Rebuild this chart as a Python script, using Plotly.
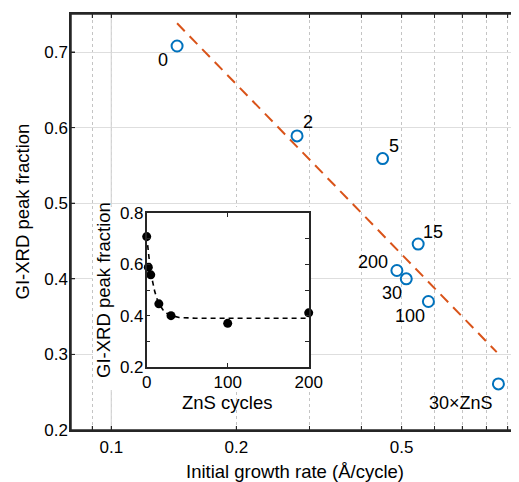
import numpy as np
import plotly.graph_objects as go

# ---------------- data ----------------
cycles = [0, 2, 5, 15, 30, 100, 200]
point_labels = ["0", "2", "5", "15", "30", "100", "200"]
growth_rate = [0.144, 0.280, 0.450, 0.548, 0.513, 0.580, 0.487]
peak_fraction = [0.708, 0.589, 0.559, 0.446, 0.400, 0.370, 0.411]

zns_label = "30×ZnS"
zns_rate = [0.855]
zns_fraction = [0.261]

fit_rate = [0.144, 0.847]
fit_fraction = [0.738, 0.303]

decay_cycles = [0, 2, 4, 6, 8, 10, 13, 16, 20, 25, 30, 40, 60, 100, 150, 200]
decay_fraction = [0.710, 0.645, 0.593, 0.552, 0.519, 0.493, 0.463, 0.442, 0.423,
                  0.409, 0.401, 0.393, 0.390, 0.390, 0.390, 0.390]

x_tick_vals = [0.09, 0.1, 0.2, 0.3, 0.4, 0.5, 0.6, 0.7, 0.8, 0.9]
x_tick_text = ["", "0.1", "0.2", "", "", "0.5", "", "", "", ""]
y_tick_vals = [0.2, 0.3, 0.4, 0.5, 0.6, 0.7]
y_tick_text = ["0.2", "0.3", "0.4", "0.5", "0.6", "0.7"]
inset_y_vals = [0.2, 0.3, 0.4, 0.5, 0.6, 0.7, 0.8]
inset_y_text = ["0.2", "", "0.4", "", "0.6", "", "0.8"]
inset_x_vals = [0, 100, 200]
inset_x_text = ["0", "100", "200"]

# ---------------- style ----------------
FONT = "Liberation Sans, Arial, Helvetica, sans-serif"
BLUE = "#0072BD"
ORANGE = "#D95319"
AX = "#262626"
OFF = 8                      # page body margin of the browser
W, H = 519 - OFF, 482 - OFF
PL, PR, PT, PB = 71, 519, 14, 430   # plot area in page pixels
ML, MT = PL - OFF, PT - OFF
MR, MB = 0, H - (PB - OFF)
X_RANGE = [-1.097, -0.0185]
Y_RANGE = [0.2, 0.7503]
label_shift = {"0": (-14, -14), "2": (11, 14), "5": (11, 13), "15": (15, 12),
               "200": (-24, 8), "30": (-14, -14), "100": (-18, -15)}
zns_shift = (-37, -19)
TICKLEN = 4

pw, ph = PR - PL, PB - PT
def px2fx(px):
    return (px - PL) / pw
def py2fy(py):
    return (PB - py) / ph
def px2data(px):
    return 10 ** (X_RANGE[0] + px2fx(px) * (X_RANGE[1] - X_RANGE[0]))
def py2data(py):
    return Y_RANGE[0] + py2fy(py) * (Y_RANGE[1] - Y_RANGE[0])
def xfrac(v):
    return (np.log10(v) - X_RANGE[0]) / (X_RANGE[1] - X_RANGE[0])
def yfrac(v):
    return (v - Y_RANGE[0]) / (Y_RANGE[1] - Y_RANGE[0])

fig = go.Figure()

# solid major gridline at 0.1 and white backdrop behind the inset (decoration)
fig.add_trace(go.Scatter(x=[0.1, 0.1], y=Y_RANGE, mode="lines",
                         line=dict(color="#d6d6d6", width=1.2),
                         showlegend=False, hoverinfo="skip"))
bx0, bx1, by0, by1 = px2data(93), px2data(310), py2data(390), py2data(207)
fig.add_trace(go.Scatter(x=[bx0, bx1, bx1, bx0, bx0], y=[by0, by0, by1, by1, by0],
                         mode="lines", fill="toself", fillcolor="white",
                         line=dict(width=0, color="white"),
                         showlegend=False, hoverinfo="skip"))

# main plot
fig.add_trace(go.Scatter(x=fit_rate, y=fit_fraction, mode="lines",
                         line=dict(color=ORANGE, width=2, dash="11px,7px"),
                         showlegend=False, hoverinfo="skip"))
fig.add_trace(go.Scatter(x=growth_rate + zns_rate, y=peak_fraction + zns_fraction,
                         mode="markers",
                         marker=dict(symbol="circle-open", size=11, color=BLUE,
                                     line=dict(width=2, color=BLUE)),
                         showlegend=False, cliponaxis=False))

# inset
fig.add_trace(go.Scatter(x=decay_cycles, y=decay_fraction, mode="lines",
                         xaxis="x2", yaxis="y2",
                         line=dict(color="black", width=1.6, dash="5px,4px"),
                         showlegend=False, hoverinfo="skip"))
fig.add_trace(go.Scatter(x=cycles, y=peak_fraction, mode="markers",
                         xaxis="x2", yaxis="y2",
                         marker=dict(symbol="circle", size=9, color="black"),
                         showlegend=False, cliponaxis=False))

annotations = []
for lab, r, f in zip(point_labels, growth_rate, peak_fraction):
    dx, dy = label_shift[lab]
    annotations.append(dict(x=np.log10(r), y=f, xref="x", yref="y", text=lab,
                            showarrow=False, xshift=dx, yshift=dy,
                            font=dict(size=18, color="black", family=FONT)))
annotations.append(dict(x=np.log10(zns_rate[0]), y=zns_fraction[0], xref="x", yref="y",
                        text=zns_label, showarrow=False, xshift=zns_shift[0],
                        yshift=zns_shift[1], font=dict(size=18, color="black", family=FONT)))
# axis titles
annotations.append(dict(x=px2fx(294.5), y=py2fy(471), xref="paper", yref="paper",
                        text="Initial growth rate (Å/cycle)", showarrow=False,
                        xanchor="center", yanchor="middle",
                        font=dict(size=18.5, color="black", family=FONT)))
annotations.append(dict(x=px2fx(21.5), y=py2fy(212), xref="paper", yref="paper",
                        text="GI-XRD peak fraction", showarrow=False, textangle=-90,
                        xanchor="center", yanchor="middle",
                        font=dict(size=18.5, color="black", family=FONT)))
annotations.append(dict(x=px2fx(103), y=py2fy(290), xref="paper", yref="paper",
                        text="GI-XRD peak fraction", showarrow=False, textangle=-90,
                        xanchor="center", yanchor="middle",
                        font=dict(size=18.5, color="black", family=FONT)))
annotations.append(dict(x=px2fx(227), y=py2fy(402), xref="paper", yref="paper",
                        text="ZnS cycles", showarrow=False,
                        xanchor="center", yanchor="middle",
                        font=dict(size=18.5, color="black", family=FONT)))

# main axis frame and ticks (left, bottom, top)
line_style = dict(color=AX, width=1.5)
tick_style = dict(color=AX, width=1)
shapes = [
    dict(type="line", xref="paper", yref="paper", x0=0, x1=0, y0=0, y1=1, line=line_style, layer="above"),
    dict(type="line", xref="paper", yref="paper", x0=0, x1=1, y0=0, y1=0, line=line_style, layer="above"),
    dict(type="line", xref="paper", yref="paper", x0=0, x1=1, y0=1, y1=1, line=line_style, layer="above"),
]
dyt, dxt = TICKLEN / ph, TICKLEN / pw
for v in x_tick_vals:
    f = xfrac(v)
    shapes.append(dict(type="line", xref="paper", yref="paper", x0=f, x1=f, y0=0, y1=dyt,
                       line=tick_style, layer="above"))
    shapes.append(dict(type="line", xref="paper", yref="paper", x0=f, x1=f, y0=1, y1=1 - dyt,
                       line=tick_style, layer="above"))
for v in y_tick_vals[1:]:
    f = yfrac(v)
    shapes.append(dict(type="line", xref="paper", yref="paper", x0=0, x1=dxt, y0=f, y1=f,
                       line=tick_style, layer="above"))

common_ax = dict(showline=True, linecolor=AX, linewidth=1.5, ticks="inside",
                 ticklen=TICKLEN, tickwidth=1, tickcolor=AX, zeroline=False,
                 tickfont=dict(size=17, color="black", family=FONT))

fig.update_layout(
    width=W, height=H,
    margin=dict(l=ML, r=MR, t=MT, b=MB, pad=0),
    paper_bgcolor="white", plot_bgcolor="white",
    font=dict(family=FONT, size=17, color="black"),
    xaxis=dict(type="log", range=X_RANGE, tickvals=x_tick_vals, ticktext=x_tick_text,
               mirror="ticks", showgrid=True, gridcolor="#c4c4c4", griddash="dot",
               gridwidth=1, ticklabelstandoff=1, automargin=False, **common_ax),
    yaxis=dict(range=Y_RANGE, tickvals=y_tick_vals, ticktext=y_tick_text,
               mirror=False, showgrid=True, gridcolor="#dedede", gridwidth=1.2,
               ticklabelstandoff=-2, automargin=False, **common_ax),
    xaxis2=dict(domain=[px2fx(146.7), px2fx(308.7)], anchor="y2", range=[0, 200],
                tickvals=inset_x_vals, ticktext=inset_x_text, mirror="ticks",
                showgrid=False, ticklabelstandoff=-1, automargin=False, **common_ax),
    yaxis2=dict(domain=[py2fy(367), py2fy(213)], anchor="x2", range=[0.2, 0.8],
                tickvals=inset_y_vals, ticktext=inset_y_text, mirror="ticks",
                showgrid=False, ticklabelstandoff=-2, automargin=False, **common_ax),
    annotations=annotations,
    shapes=shapes,
)

fig.write_html("out.html")
